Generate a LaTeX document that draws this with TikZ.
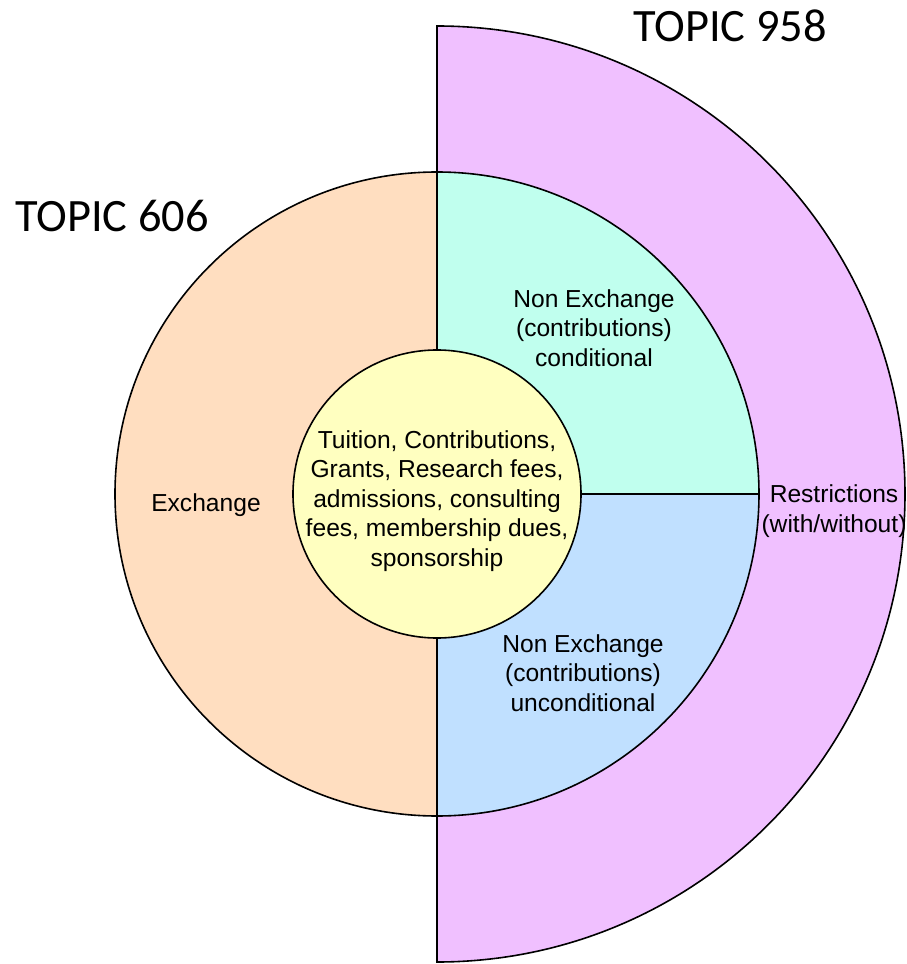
\documentclass[tikz,border=0pt]{standalone}
\usepackage{fontspec}
\setmainfont{Liberation Sans}
\newfontfamily\topicfont{Carlito}
\usepackage{tikz}

\definecolor{peach}{RGB}{255,222,192}
\definecolor{mint}{RGB}{192,255,238}
\definecolor{skyblue}{RGB}{192,224,255}
\definecolor{lemon}{RGB}{255,255,192}
\definecolor{lilac}{RGB}{240,192,255}

\begin{document}
\begin{tikzpicture}[
    x=0.5pt, y=0.5pt,
    ring/.style={draw=black, line width=0.8pt},
    lbl/.style={align=center, inner sep=0pt, font=\fontsize{12.3}{14.75}\selectfont},
    topic/.style={anchor=base, inner sep=0pt, font=\topicfont\fontsize{23.2}{26}\selectfont}
]

% page frame
\useasboundingbox (-437,-470) rectangle (469,494);

% Outer half ring (TOPIC 958)
\draw[ring, fill=lilac] (0,468) arc[start angle=90, end angle=-90, radius=468] -- cycle;

% Middle circle, three sectors
\fill[peach] (0,322) arc[start angle=90, end angle=270, radius=322] -- cycle;
\fill[mint] (0,0) -- (0,322) arc[start angle=90, end angle=0, radius=322] -- cycle;
\fill[skyblue] (0,0) -- (322,0) arc[start angle=0, end angle=-90, radius=322] -- cycle;
\draw[ring] (0,0) circle[radius=322];
\draw[ring] (0,322) -- (0,-322);
\draw[ring] (0,0) -- (322,0);

% Inner circle
\draw[ring, fill=lemon] (0,0) circle[radius=144];

% ===== TEXTS =====
\node[lbl] (exchange) at (-231,-11) {Exchange};
\node[lbl] (sources) at (0,-7) {Tuition, Contributions,\\Grants, Research fees,\\admissions, consulting\\fees, membership dues,\\sponsorship};
\node[lbl] (cond) at (157,166) {Non Exchange\\(contributions)\\conditional};
\node[lbl] (uncond) at (146,-179) {Non Exchange\\(contributions)\\unconditional};
\node[lbl] (restrict) at (397,-17) {Restrictions\\(with/without)};

% Topic titles
\node[topic] (t958) at (293,452) {TOPIC 958};
\node[topic] (t606) at (-325,262) {TOPIC 606};

\end{tikzpicture}
\end{document}
